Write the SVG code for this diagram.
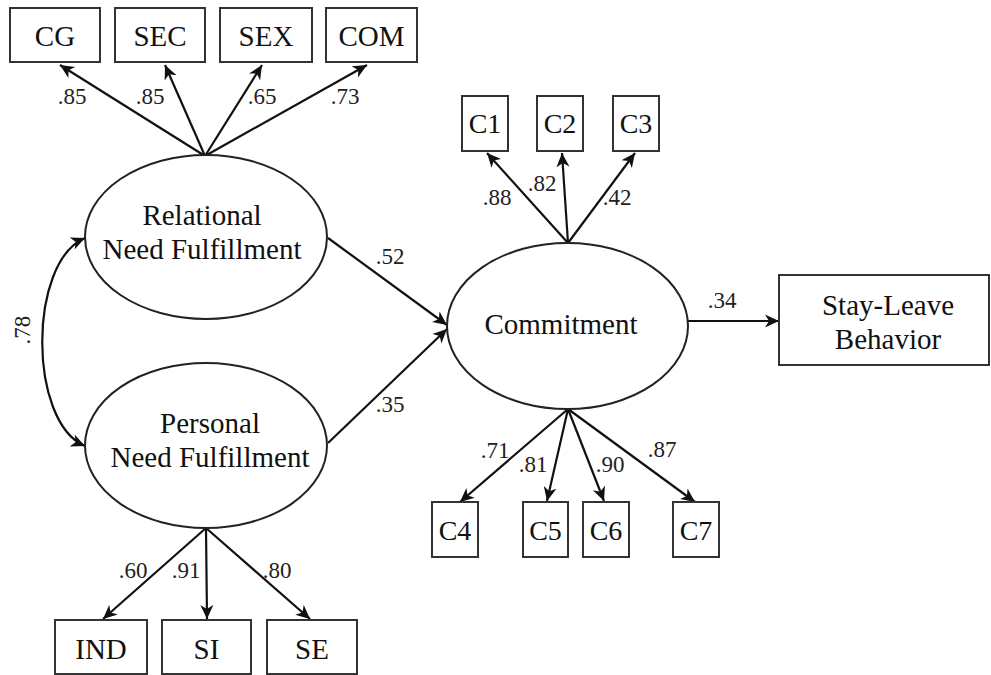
<svg xmlns="http://www.w3.org/2000/svg" width="991" height="675" viewBox="0 0 991 675">
<defs>
<marker id="ah" markerUnits="userSpaceOnUse" markerWidth="16" markerHeight="14" refX="14" refY="7" orient="auto-start-reverse">
<path d="M0,0.5 L14,7 L0,13.5 L4,7 z" fill="#111"/>
</marker>
<style>
.box{fill:#fff;stroke:#333;stroke-width:2}
.ell{fill:#fff;stroke:#222;stroke-width:2}
text{font-family:'Liberation Serif','Tinos','Times New Roman','DejaVu Serif',serif;text-anchor:middle;fill:#111}
.lbl{font-size:29px}
.cl{font-size:28px}
.w{font-size:23px;fill:#222}
.c{stroke:#111;stroke-width:2.2;fill:none;marker-end:url(#ah)}
</style>
</defs>
<g id="connectors">
<line class="c" x1="205" y1="156" x2="60" y2="65"/>
<line class="c" x1="205" y1="156" x2="165" y2="65"/>
<line class="c" x1="205" y1="156" x2="262" y2="65"/>
<line class="c" x1="205" y1="156" x2="367" y2="65"/>
<line class="c" x1="206" y1="528" x2="103" y2="619"/>
<line class="c" x1="206" y1="528" x2="207" y2="619"/>
<line class="c" x1="206" y1="528" x2="310" y2="619"/>
<line class="c" x1="568" y1="243" x2="487" y2="153"/>
<line class="c" x1="568" y1="243" x2="562" y2="153"/>
<line class="c" x1="568" y1="243" x2="635" y2="153"/>
<line class="c" x1="568" y1="409" x2="460" y2="502"/>
<line class="c" x1="568" y1="409" x2="547" y2="501"/>
<line class="c" x1="568" y1="409" x2="604" y2="501"/>
<line class="c" x1="568" y1="409" x2="695" y2="502"/>
<line class="c" x1="328" y1="238" x2="447" y2="325"/>
<line class="c" x1="328" y1="443" x2="447" y2="329"/>
<line class="c" x1="688" y1="321" x2="779" y2="321"/>
<path class="c" d="M85,238 C28,262 28,422 85,446" marker-start="url(#ah)"/>
<text class="w" x="72" y="104" font-family="Liberation Serif, serif">.85</text>
<text class="w" x="150" y="104">.85</text>
<text class="w" x="262" y="104">.65</text>
<text class="w" x="345" y="104">.73</text>
<text class="w" x="133" y="578">.60</text>
<text class="w" x="186" y="578">.91</text>
<text class="w" x="277" y="578">.80</text>
<text class="w" x="497" y="205">.88</text>
<text class="w" x="542" y="191">.82</text>
<text class="w" x="617" y="205">.42</text>
<text class="w" x="495" y="458">.71</text>
<text class="w" x="533" y="472">.81</text>
<text class="w" x="610" y="472">.90</text>
<text class="w" x="662" y="457">.87</text>
<text class="w" x="390" y="264">.52</text>
<text class="w" x="390" y="412">.35</text>
<text class="w" x="722" y="308">.34</text>
<text class="w" transform="translate(30,330) rotate(-90)">.78</text>
</g>
<g id="CG"><rect class="box" x="10" y="8" width="90" height="54"/><text class="lbl" x="55" y="46">CG</text></g>
<g id="SEC"><rect class="box" x="115" y="8" width="90" height="54"/><text class="lbl" x="160" y="46">SEC</text></g>
<g id="SEX"><rect class="box" x="220" y="8" width="92" height="54"/><text class="lbl" x="266" y="46">SEX</text></g>
<g id="COM"><rect class="box" x="326" y="8" width="91" height="54"/><text class="lbl" x="371.5" y="46">COM</text></g>
<g id="relational"><ellipse class="ell" cx="206" cy="237" rx="121" ry="82"/><text class="lbl" x="202" y="225">Relational</text><text class="lbl" x="202" y="259">Need Fulfillment</text></g>
<g id="personal"><ellipse class="ell" cx="206" cy="445.5" rx="121" ry="82.5"/><text class="lbl" x="210" y="433">Personal</text><text class="lbl" x="210" y="467">Need Fulfillment</text></g>
<g id="IND"><rect class="box" x="55" y="620" width="92" height="54"/><text class="lbl" x="101" y="659">IND</text></g>
<g id="SI"><rect class="box" x="162" y="620" width="89" height="54"/><text class="lbl" x="206.5" y="659">SI</text></g>
<g id="SE"><rect class="box" x="267" y="620" width="90" height="54"/><text class="lbl" x="312" y="659">SE</text></g>
<g id="commitment"><ellipse class="ell" cx="567.5" cy="326" rx="120.5" ry="83"/><text class="lbl" x="561" y="334">Commitment</text></g>
<g id="C1"><rect class="box" x="462" y="96" width="46" height="55"/><text class="cl" x="485" y="133">C1</text></g>
<g id="C2"><rect class="box" x="537" y="96" width="46" height="55"/><text class="cl" x="560" y="133">C2</text></g>
<g id="C3"><rect class="box" x="613" y="96" width="46" height="55"/><text class="cl" x="636" y="133">C3</text></g>
<g id="C4"><rect class="box" x="432" y="502" width="46" height="55"/><text class="cl" x="455" y="540">C4</text></g>
<g id="C5"><rect class="box" x="523" y="502" width="45" height="55"/><text class="cl" x="545.5" y="540">C5</text></g>
<g id="C6"><rect class="box" x="583" y="502" width="46" height="55"/><text class="cl" x="606" y="540">C6</text></g>
<g id="C7"><rect class="box" x="673" y="502" width="46" height="55"/><text class="cl" x="696" y="540">C7</text></g>
<g id="stayleave"><rect class="box" x="779" y="275" width="210" height="90"/><text class="lbl" x="888" y="315">Stay-Leave</text><text class="lbl" x="888" y="349">Behavior</text></g>
</svg>
